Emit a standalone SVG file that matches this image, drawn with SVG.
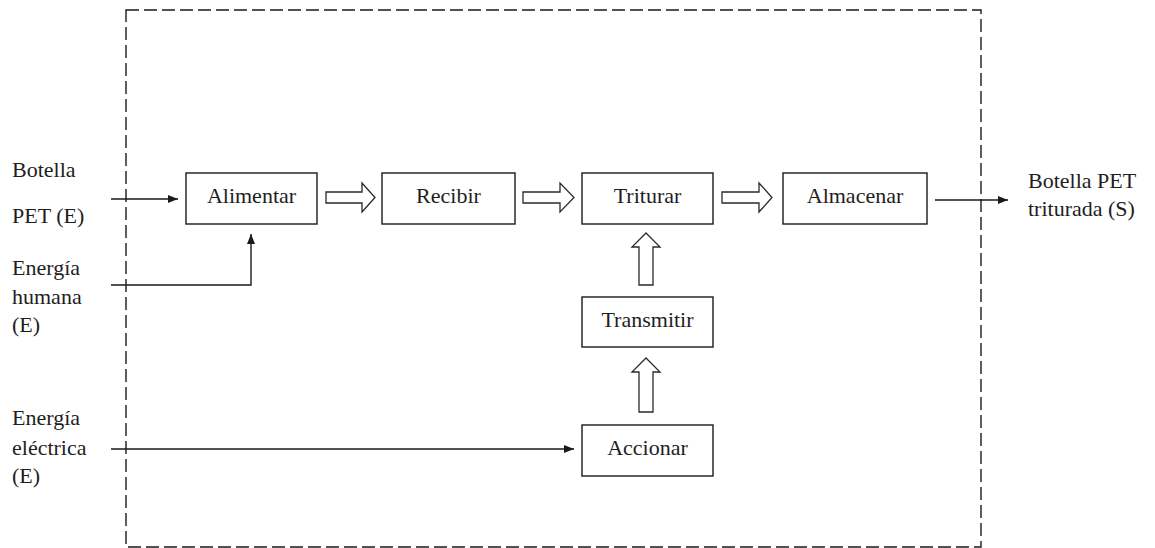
<svg xmlns="http://www.w3.org/2000/svg" width="1155" height="548" viewBox="0 0 1155 548">
  <style>
    text { font-size: 22px; fill: #1e1e1e; }
    .box { fill: #ffffff; stroke: #1a1a1a; stroke-width: 1.4; }
    .flow { fill: none; stroke: #1a1a1a; stroke-width: 1.4; }
    .hollow { fill: #ffffff; stroke: #2a2a2a; stroke-width: 1.3; stroke-linejoin: miter; }
    .boundary { fill: none; stroke: #1a1a1a; stroke-width: 1.4; stroke-dasharray: 13 5; }
  </style>
  <defs>
    <marker id="tip" viewBox="0 0 10 8" refX="10" refY="4" markerWidth="10" markerHeight="8" markerUnits="userSpaceOnUse" orient="auto">
      <path d="M0,0 L10,4 L0,8 Z" fill="#1a1a1a"/>
    </marker>
  </defs>

  <rect width="1155" height="548" fill="#ffffff"/>

  <!-- system boundary -->
  <rect id="boundary" class="boundary" x="126" y="10" width="855" height="537"/>

  <g font-family="'Liberation Serif', 'DejaVu Serif', serif">
    <!-- external inputs and output labels -->
    <g id="in-botella">
      <text x="12" y="177">Botella</text>
      <text x="12" y="223">PET (E)</text>
    </g>
    <g id="in-humana">
      <text x="12" y="275">Energía</text>
      <text x="12" y="304">humana</text>
      <text x="12" y="332">(E)</text>
    </g>
    <g id="in-electrica">
      <text x="12" y="425">Energía</text>
      <text x="12" y="455">eléctrica</text>
      <text x="12" y="483">(E)</text>
    </g>
    <g id="out-triturada">
      <text x="1028" y="188">Botella PET</text>
      <text x="1028" y="216">triturada (S)</text>
    </g>

    <!-- functions -->
    <g id="alimentar">
      <rect class="box" x="186" y="173" width="131" height="51"/>
      <text x="251.5" y="203" text-anchor="middle">Alimentar</text>
    </g>
    <g id="recibir">
      <rect class="box" x="382" y="173" width="133" height="51"/>
      <text x="448.5" y="203" text-anchor="middle">Recibir</text>
    </g>
    <g id="triturar">
      <rect class="box" x="582" y="173" width="131" height="51"/>
      <text x="647.5" y="203" text-anchor="middle">Triturar</text>
    </g>
    <g id="almacenar">
      <rect class="box" x="783" y="173" width="144" height="51"/>
      <text x="855" y="203" text-anchor="middle">Almacenar</text>
    </g>
    <g id="transmitir">
      <rect class="box" x="582" y="297" width="131" height="50"/>
      <text x="647.5" y="327" text-anchor="middle">Transmitir</text>
    </g>
    <g id="accionar">
      <rect class="box" x="582" y="425" width="131" height="51"/>
      <text x="647.5" y="455" text-anchor="middle">Accionar</text>
    </g>
  </g>

  <!-- connectors -->
  <g id="connectors">
    <!-- signal / material lines -->
    <path class="flow" d="M111,199 H178" marker-end="url(#tip)"/>
    <path class="flow" d="M111,285 H251 V234" marker-end="url(#tip)"/>
    <path class="flow" d="M111,449 H574" marker-end="url(#tip)"/>
    <path class="flow" d="M935,200 H1008" marker-end="url(#tip)"/>

    <!-- hollow flow arrows between functions -->
    <path class="hollow" d="M326,192 H362 V183 L375,197.5 L362,212 V203 H326 Z"/>
    <path class="hollow" d="M523,192 H560 V183 L574,197.5 L560,212 V203 H523 Z"/>
    <path class="hollow" d="M722,192 H759 V183 L772,197.5 L759,212 V203 H722 Z"/>
    <path class="hollow" d="M639,285 V247 H632 L646,233 L660,247 H653 V285 Z"/>
    <path class="hollow" d="M639,412 V372 H632 L646,358 L660,372 H653 V412 Z"/>
  </g>
</svg>
